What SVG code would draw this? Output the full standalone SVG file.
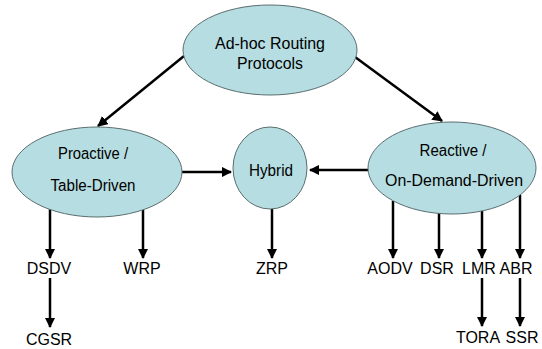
<svg xmlns="http://www.w3.org/2000/svg" width="542" height="349" viewBox="0 0 542 349">
<defs>
<marker id="ah" viewBox="0 0 10 10" refX="9" refY="5" markerWidth="4.2" markerHeight="4.2" orient="auto" markerUnits="strokeWidth">
<path d="M0,0 L10,5 L0,10 z" fill="#000"/>
</marker>
<style>
.n{fill:#b6dde1;stroke:#5a6e70;stroke-width:1}
.t{font-family:"Liberation Sans",Arial,sans-serif;font-size:16px;fill:#000;text-anchor:middle}
.c{stroke:#000;stroke-width:2.5;fill:none;marker-end:url(#ah)}
</style>
</defs>
<rect width="542" height="349" fill="#fff"/>
<g id="connectors">
<line class="c" x1="184" y1="56" x2="98" y2="126"/>
<line class="c" x1="355" y1="57" x2="442" y2="121"/>
<line class="c" x1="182" y1="172" x2="231" y2="172"/>
<line class="c" x1="368" y1="170" x2="310" y2="170"/>
<line class="c" x1="50" y1="209" x2="50" y2="258"/>
<line class="c" x1="143" y1="209" x2="143" y2="258"/>
<line class="c" x1="272" y1="209" x2="272" y2="258"/>
<line class="c" x1="393" y1="201" x2="393" y2="258"/>
<line class="c" x1="439" y1="213" x2="439" y2="258"/>
<line class="c" x1="482" y1="211" x2="482" y2="258"/>
<line class="c" x1="520" y1="195" x2="520" y2="258"/>
<line class="c" x1="50" y1="278" x2="50" y2="327"/>
<line class="c" x1="482" y1="278" x2="482" y2="326"/>
<line class="c" x1="520" y1="278" x2="520" y2="326"/>
</g>
<g id="root">
<ellipse class="n" cx="270" cy="50" rx="87" ry="45"/>
<text class="t" x="270" y="49" font-size="17" textLength="110" lengthAdjust="spacingAndGlyphs">Ad-hoc Routing</text>
<text class="t" x="270" y="69" font-size="17" textLength="66" lengthAdjust="spacingAndGlyphs">Protocols</text>
</g>
<g id="proactive">
<ellipse class="n" cx="97" cy="172" rx="85" ry="45"/>
<text class="t" x="93" y="159" textLength="70" lengthAdjust="spacingAndGlyphs">Proactive /</text>
<text class="t" x="93" y="191" textLength="85" lengthAdjust="spacingAndGlyphs">Table-Driven</text>
</g>
<g id="hybrid">
<ellipse class="n" cx="270" cy="168" rx="37" ry="41"/>
<text class="t" x="271" y="176" textLength="44" lengthAdjust="spacingAndGlyphs">Hybrid</text>
</g>
<g id="reactive">
<ellipse class="n" cx="452" cy="168" rx="84" ry="46"/>
<text class="t" x="453" y="156" textLength="67" lengthAdjust="spacingAndGlyphs">Reactive /</text>
<text class="t" x="454" y="186" textLength="138" lengthAdjust="spacingAndGlyphs">On-Demand-Driven</text>
</g>
<g id="dsdv"><text class="t" x="49" y="274">DSDV</text></g>
<g id="wrp"><text class="t" x="142" y="274">WRP</text></g>
<g id="zrp"><text class="t" x="272" y="274">ZRP</text></g>
<g id="aodv"><text class="t" x="390" y="274">AODV</text></g>
<g id="dsr"><text class="t" x="437" y="274">DSR</text></g>
<g id="lmr"><text class="t" x="479" y="274">LMR</text></g>
<g id="abr"><text class="t" x="516" y="274">ABR</text></g>
<g id="cgsr"><text class="t" x="49" y="345">CGSR</text></g>
<g id="tora"><text class="t" x="478" y="343">TORA</text></g>
<g id="ssr"><text class="t" x="522" y="343">SSR</text></g>
</svg>
